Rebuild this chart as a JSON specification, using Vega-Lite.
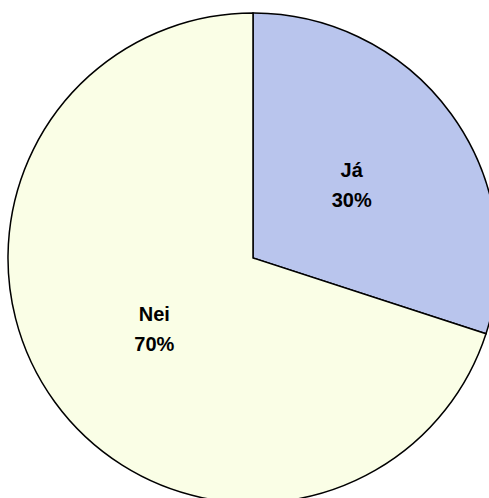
{
  "$schema": "https://vega.github.io/schema/vega-lite/v6.json",
  "width": 506,
  "height": 516,
  "autosize": "none",
  "padding": 0,
  "background": "white",
  "config": {"view": {"stroke": null}},
  "data": {"values": [
    {"answer": "Já", "share": 0.3},
    {"answer": "Nei", "share": 0.7}
  ]},
  "encoding": {
    "theta": {"field": "share", "type": "quantitative", "stack": true}
  },
  "layer": [
    {
      "mark": {"type": "arc", "outerRadius": 245, "stroke": "black", "strokeWidth": 1.5},
      "encoding": {
        "color": {
          "field": "answer", "type": "nominal",
          "scale": {"domain": ["Já", "Nei"], "range": ["#b9c5ed", "#fafee6"]},
          "legend": null
        }
      }
    },
    {
      "mark": {"type": "text", "radius": 122, "dy": -15, "font": "Liberation Sans", "fontWeight": "bold", "fontSize": 20, "fill": "black"},
      "encoding": {
        "detail": {"field": "answer", "type": "nominal"},
        "text": {"field": "answer", "type": "nominal"}
      }
    },
    {
      "mark": {"type": "text", "radius": 122, "dy": 15, "font": "Liberation Sans", "fontWeight": "bold", "fontSize": 20, "fill": "black"},
      "encoding": {
        "detail": {"field": "answer", "type": "nominal"},
        "text": {"field": "share", "type": "quantitative", "format": ".0%"}
      }
    }
  ]
}
